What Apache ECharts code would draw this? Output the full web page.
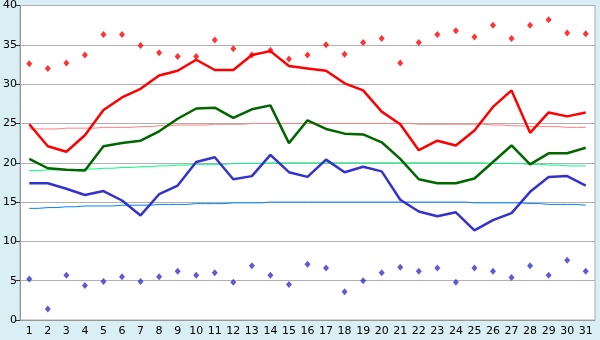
<!DOCTYPE html>
<html>
<head>
<meta charset="utf-8">
<script src="https://cdn.jsdelivr.net/npm/echarts@6/dist/echarts.min.js"></script>
<style>
  html, body { margin: 0; padding: 0; background: #d9eef5; }
  #chart { width: 600px; height: 340px; }
</style>
</head>
<body>
<div id="chart"></div>
<script>
// days of the month
const days = [];
for (let d = 1; d <= 31; d++) days.push(String(d));

// daily values
const maxTemp = [32.6, 32.0, 32.7, 33.7, 36.3, 36.3, 34.9, 34.0, 33.5, 33.5, 35.6, 34.5, 33.7, 34.3, 33.2, 33.7,
  35.0, 33.8, 35.3, 35.8, 32.7, 35.3, 36.3, 36.8, 36.0, 37.5, 35.8, 37.5, 38.2, 36.5, 36.4];
const meanMax = [24.9, 22.1, 21.4, 23.5, 26.7, 28.3, 29.4, 31.1, 31.7, 33.1, 31.8, 31.8, 33.7, 34.2, 32.3, 32.0,
  31.7, 30.1, 29.2, 26.5, 24.9, 21.6, 22.8, 22.2, 24.1, 27.1, 29.2, 23.8, 26.4, 25.9, 26.4];
const meanTemp = [20.5, 19.3, 19.1, 19.0, 22.1, 22.5, 22.8, 24.0, 25.6, 26.9, 27.0, 25.7, 26.8, 27.3, 22.5, 25.4,
  24.3, 23.7, 23.6, 22.6, 20.5, 17.9, 17.4, 17.4, 18.0, 20.1, 22.2, 19.8, 21.2, 21.2, 21.9];
const meanMin = [17.4, 17.4, 16.7, 15.9, 16.4, 15.2, 13.3, 16.0, 17.1, 20.1, 20.7, 17.9, 18.3, 21.0, 18.8, 18.2,
  20.4, 18.8, 19.5, 18.9, 15.3, 13.8, 13.2, 13.7, 11.4, 12.7, 13.6, 16.3, 18.2, 18.3, 17.1];
const minTemp = [5.2, 1.4, 5.7, 4.4, 4.9, 5.5, 4.9, 5.5, 6.2, 5.7, 6.0, 4.8, 6.9, 5.7, 4.5, 7.1,
  6.6, 3.6, 5.0, 6.0, 6.7, 6.2, 6.6, 4.8, 6.6, 6.2, 5.4, 6.9, 5.7, 7.6, 6.2];

// long-term normals (thin lines)
const normalMax = [24.3, 24.3, 24.4, 24.4, 24.5, 24.5, 24.6, 24.7, 24.8, 24.8, 24.9, 24.9, 25.0, 25.0, 25.0, 25.0,
  25.0, 25.0, 25.0, 25.0, 25.0, 24.9, 24.9, 24.9, 24.9, 24.8, 24.7, 24.6, 24.6, 24.5, 24.5];
const normalMean = [19.0, 19.1, 19.1, 19.2, 19.3, 19.4, 19.5, 19.6, 19.7, 19.8, 19.8, 19.9, 19.9, 20.0, 20.0, 20.0,
  20.0, 20.0, 20.0, 20.0, 20.0, 20.0, 20.0, 20.0, 20.0, 19.9, 19.9, 19.8, 19.7, 19.6, 19.6];
const normalMin = [14.2, 14.3, 14.4, 14.5, 14.5, 14.6, 14.6, 14.7, 14.7, 14.8, 14.8, 14.9, 14.9, 15.0, 15.0, 15.0,
  15.0, 15.0, 15.0, 15.0, 15.0, 15.0, 15.0, 15.0, 14.9, 14.9, 14.9, 14.8, 14.7, 14.7, 14.6];

const chart = echarts.init(document.getElementById("chart"));

const thinLine = (data, color) => ({
  type: "line",
  data: data,
  symbol: "none",
  step: "middle",
  silent: true,
  lineStyle: { color: color, width: 1 },
  z: 1,
});
const thickLine = (data, color) => ({
  type: "line",
  data: data,
  symbol: "none",
  lineStyle: { color: color, width: 2.5 },
  z: 3,
});
const dots = (data, color) => ({
  type: "scatter",
  data: data,
  symbol: "diamond",
  symbolSize: [6, 7],
  itemStyle: { color: color },
  z: 4,
});

chart.setOption({
  animation: false,
  backgroundColor: "#d9eef5",
  textStyle: { fontFamily: "DejaVu Sans" },
  grid: {
    left: 20,
    right: 5,
    top: 5,
    bottom: 20,
    show: true,
    backgroundColor: "#ffffff",
    borderColor: "#aaaaaa",
    borderWidth: 1,
  },
  xAxis: {
    type: "category",
    data: days,
    boundaryGap: true,
    axisLine: { lineStyle: { color: "#999999" } },
    axisTick: { alignWithLabel: true, length: 5, lineStyle: { color: "#333333" } },
    axisLabel: { color: "#000000", fontSize: 11, margin: 6, interval: 0 },
  },
  yAxis: {
    type: "value",
    min: 0,
    max: 40,
    interval: 5,
    axisLine: { show: true, lineStyle: { color: "#999999" } },
    axisTick: { show: true, length: 4, lineStyle: { color: "#333333" } },
    axisLabel: { color: "#000000", fontSize: 11, margin: 3 },
    splitLine: { lineStyle: { color: "#b0b0b0" } },
  },
  series: [
    thinLine(normalMax, "#ff8080"),
    thinLine(normalMean, "#00ff80"),
    thinLine(normalMin, "#0080ff"),
    thickLine(meanMax, "#ff0000"),
    thickLine(meanTemp, "#006600"),
    thickLine(meanMin, "#3333cc"),
    dots(maxTemp, "#ff0000"),
    dots(minTemp, "#3333cc"),
  ],
});
</script>
</body>
</html>
